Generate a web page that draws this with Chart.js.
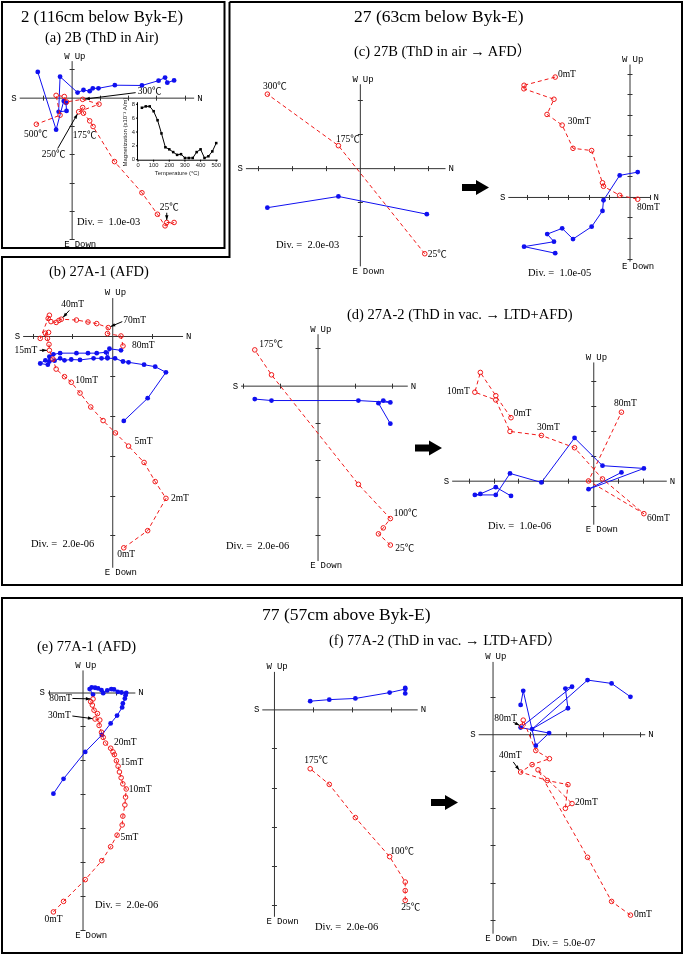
<!DOCTYPE html>
<html>
<head>
<meta charset="utf-8">
<script src="https://cdn.jsdelivr.net/npm/chart.js@4.4.1/dist/chart.umd.min.js"></script>
<style>
  body { margin: 0; background: #fff; }
  #wrap { position: relative; width: 685px; height: 956px; overflow: hidden; }
  #wrap canvas, #wrap svg { position: absolute; left: 0; top: 0; }
  .t { position: absolute; font-family: "Liberation Serif", "Noto Sans CJK JP", serif; white-space: nowrap; color: #000; line-height: 1; }
  .h1 { font-size: 17.5px; }
  .h2 { font-size: 14.5px; }
  .dv { font-size: 10.5px; }
</style>
</head>
<body>
<div id="wrap">
<svg width="685" height="956">
  <!-- frames -->
  <rect x="2" y="2" width="222.5" height="246" fill="none" stroke="#000" stroke-width="2"/>
  <polyline points="229.5,2 682,2 682,585 2,585 2,257 229.5,257 229.5,2" fill="none" stroke="#000" stroke-width="2"/>
  <rect x="2" y="598" width="680" height="355" fill="none" stroke="#000" stroke-width="2"/>
  <!-- step arrows -->
  <polygon points="462,184 476,184 476,180 489,187.5 476,195 476,191 462,191" fill="#000"/>
  <polygon points="415,444.5 429,444.5 429,440.5 442,448 429,455.5 429,451.5 415,451.5" fill="#000"/>
  <polygon points="431,799 445,799 445,795 458,802.5 445,810 445,806 431,806" fill="#000"/>
</svg>
<canvas id="zij" width="685" height="956"></canvas>

<div class="t h1" style="left:21px;top:9px;font-size:16.8px">2 (116cm below Byk-E)</div>
<div class="t h2" style="left:45px;top:30px">(a) 2B (ThD in Air)</div>
<div class="t h1" style="left:354px;top:8px">27 (63cm below Byk-E)</div>
<div class="t h2" style="left:354px;top:44px">(c) 27B (ThD in air → AFD）</div>
<div class="t h2" style="left:49px;top:264px">(b) 27A-1 (AFD)</div>
<div class="t h2" style="left:347px;top:307px">(d) 27A-2 (ThD in vac. → LTD+AFD)</div>
<div class="t h1" style="left:262px;top:606px">77 (57cm above Byk-E)</div>
<div class="t h2" style="left:37px;top:639px">(e) 77A-1 (AFD)</div>
<div class="t h2" style="left:329px;top:633px">(f) 77A-2 (ThD in vac. → LTD+AFD）</div>

<div class="t dv" style="left:77px;top:217px">Div. =&nbsp; 1.0e-03</div>
<div class="t dv" style="left:31px;top:539px">Div. =&nbsp; 2.0e-06</div>
<div class="t dv" style="left:276px;top:240px">Div. =&nbsp; 2.0e-03</div>
<div class="t dv" style="left:528px;top:268px">Div. =&nbsp; 1.0e-05</div>
<div class="t dv" style="left:226px;top:541px">Div. =&nbsp; 2.0e-06</div>
<div class="t dv" style="left:488px;top:521px">Div. =&nbsp; 1.0e-06</div>
<div class="t dv" style="left:95px;top:900px">Div. =&nbsp; 2.0e-06</div>
<div class="t dv" style="left:315px;top:922px">Div. =&nbsp; 2.0e-06</div>
<div class="t dv" style="left:532px;top:938px">Div. =&nbsp; 5.0e-07</div>
</div>

<script>
// Zijderveld data, in units of one axis division (Div.)
// _h = horizontal projection (N, W) blue filled, _v = vertical projection (N, Up) red open

// (a) 2B ThD in air, 25C first
const s2B_h = [[3.63,0.61],[3.39,0.53],[3.31,0.71],[3.08,0.60],[2.49,0.43],[1.53,0.44],[0.95,0.33],[0.75,0.33],[0.64,0.23],[0.42,0.27],[0.21,0.18],[-0.41,0.74],[-0.46,-0.50],[-0.18,-0.47],[-0.20,-0.18],[-0.28,-0.12],[-0.55,-1.13],[-1.20,0.91]];
const s2B_v = [[3.37,-4.41],[3.63,-4.41],[3.31,-4.53],[3.04,-4.12],[2.49,-3.36],[1.52,-2.26],[0.76,-1.02],[0.64,-0.82],[0.42,-0.55],[0.39,-0.35],[0.25,-0.50],[0.97,-0.23],[0.39,-0.06],[-0.18,-0.15],[-0.26,0.04],[-0.55,0.08],[-0.41,-0.62],[-1.25,-0.94]];

// inset: thermal demagnetisation curve of 2B
const inTemp = [25,50,75,100,125,150,175,200,225,250,275,300,325,350,375,400,425,450,475,500];
const inMag = [7.5,7.7,7.7,7.0,5.7,3.8,1.8,1.5,1.1,0.7,0.8,0.25,0.25,0.25,1.1,1.5,0.25,0.5,1.2,2.4];

// (b) 27A-1 AFD, 0mT first
const s27A1_h = [[0.29,-2.13],[0.89,-1.56],[1.35,-0.91],[1.08,-0.77],[0.80,-0.72],[0.41,-0.66],[0.27,-0.64],[0.07,-0.56],[-0.12,-0.56],[-0.27,-0.56],[-0.47,-0.56],[-0.81,-0.60],[-1.03,-0.59],[-1.20,-0.61],[-1.31,-0.56],[-1.45,-0.62],[-1.58,-0.64],[-1.68,-0.61],[-1.81,-0.69],[-1.62,-0.72],[-1.58,-0.52],[-1.48,-0.46],[-1.31,-0.43],[-0.90,-0.43],[-0.61,-0.43],[-0.39,-0.43],[-0.16,-0.41],[-0.12,-0.54],[-0.07,-0.32],[0.22,-0.36]];
const s27A1_v = [[0.29,-5.31],[0.89,-4.88],[1.35,-4.07],[1.08,-3.65],[0.80,-3.17],[0.41,-2.76],[0.08,-2.43],[-0.23,-2.12],[-0.54,-1.78],[-0.81,-1.43],[-1.03,-1.16],[-1.20,-1.02],[-1.41,-0.83],[-1.49,-0.58],[-1.58,-0.36],[-1.59,-0.21],[-1.63,-0.06],[-1.68,0.07],[-1.60,0.09],[-1.81,-0.06],[-1.58,0.52],[-1.61,0.44],[-1.54,0.36],[-1.41,0.34],[-1.34,0.39],[-1.28,0.42],[-0.90,0.40],[-0.61,0.35],[-0.39,0.31],[-0.10,0.21],[-0.12,0.06],[0.22,0.00],[0.27,-0.25]];

// (c) 27B ThD in air (25, 175, 300C) then AFD (0-80mT)
const s27B_thd_h = [[1.97,-1.35],[-0.63,-0.83],[-2.72,-1.16]];
const s27B_thd_v = [[1.91,-2.51],[-0.63,0.66],[-2.72,2.17]];
const s27B_afd_h = [[-3.63,-2.74],[-5.15,-2.42],[-3.69,-2.18],[-4.02,-1.81],[-3.29,-1.53],[-2.76,-2.05],[-1.85,-1.45],[-1.32,-0.68],[-1.27,-0.16],[-0.48,1.05],[0.40,1.21]];
const s27B_afd_v = [[-3.63,5.84],[-5.15,5.44],[-5.16,5.27],[-3.69,4.76],[-4.03,4.02],[-3.29,3.50],[-2.76,2.37],[-1.85,2.26],[-1.32,0.69],[-1.27,0.52],[-0.48,0.08],[0.40,-0.11]];

// (d) 27A-2 ThD in vacuum (25-175C) then LTD+AFD
const s27A2_thd_h = [[1.96,-1.02],[1.64,-0.47],[1.77,-0.40],[1.96,-0.45],[1.10,-0.40],[-1.24,-0.40],[-1.69,-0.36]];
const s27A2_thd_v = [[1.96,-4.28],[1.64,-3.98],[1.77,-3.82],[1.96,-3.57],[1.10,-2.65],[-1.24,0.29],[-1.69,0.96]];
const s27A2_afd_h = [[-3.30,-0.61],[-3.91,-0.26],[-4.53,-0.53],[-4.75,-0.57],[-3.91,-0.57],[-3.34,0.29],[-2.08,-0.07],[-0.75,1.71],[0.37,0.60],[2.03,0.49],[-0.19,-0.34],[1.13,0.33]];
const s27A2_afd_v = [[-3.30,2.52],[-3.91,3.40],[-4.53,4.33],[-4.75,3.54],[-3.91,3.23],[-3.34,1.97],[-2.08,1.81],[-0.75,1.32],[0.37,0.07],[2.03,-1.32],[-0.19,-0.01],[1.13,2.74]];

// (e) 77A-1 AFD, 0mT first
const s77A1_h = [[-0.86,-2.98],[-0.56,-2.54],[0.08,-1.75],[0.57,-1.25],[0.83,-0.91],[1.02,-0.68],[1.17,-0.44],[1.19,-0.32],[1.25,-0.18],[1.27,-0.08],[1.29,-0.01],[1.15,0.00],[1.04,0.02],[0.93,0.09],[0.85,0.10],[0.73,0.06],[0.61,-0.02],[0.56,0.07],[0.46,0.12],[0.37,0.14],[0.27,0.15],[0.21,0.10],[0.31,-0.06]];
const s77A1_v = [[-0.86,-6.46],[-0.56,-6.15],[0.08,-5.51],[0.57,-4.95],[0.83,-4.54],[1.02,-4.20],[1.17,-3.90],[1.19,-3.64],[1.25,-3.31],[1.27,-3.08],[1.29,-2.84],[1.19,-2.69],[1.14,-2.51],[1.09,-2.34],[1.05,-2.17],[1.00,-2.01],[0.94,-1.83],[0.90,-1.75],[0.83,-1.64],[0.68,-1.49],[0.61,-1.32],[0.56,-1.17],[0.49,-0.97],[0.51,-0.81],[0.37,-0.78],[0.44,-0.62],[0.34,-0.52],[0.29,-0.37],[0.24,-0.27],[0.31,-0.19]];

// (f) 77A-2 ThD in vacuum then LTD+AFD
const s77A2_thd_h = [[3.37,0.41],[3.37,0.55],[3.37,0.52],[2.97,0.43],[2.09,0.28],[1.42,0.25],[0.93,0.21]];
const s77A2_thd_v = [[3.37,-4.89],[3.37,-4.64],[3.37,-4.42],[2.97,-3.77],[2.09,-2.77],[1.42,-1.92],[0.93,-1.52]];
const s77A2_afd_h = [[3.73,1.01],[3.22,1.37],[2.57,1.46],[1.07,0.14],[2.04,0.70],[1.97,1.23],[2.15,1.28],[0.76,0.18],[1.53,0.03],[1.17,-0.31],[0.83,1.17],[0.76,0.79]];
const s77A2_afd_v = [[3.73,-4.88],[3.22,-4.51],[2.57,-3.32],[1.23,-0.96],[2.15,-1.87],[1.97,-2.00],[2.04,-1.36],[1.48,-1.25],[0.76,-1.02],[1.07,-0.82],[1.54,-0.66],[1.17,-0.44],[0.83,0.38],[0.79,0.21]];

// ---- layout: origin pixel, pixels per division, axis extents (div), labels
const W = 685, H = 956;
const panels = [
  { key: 'a', o: [69, 95], d: 28.5, ax: [-1.84, 4.34], ay: [-5.02, 1.29], h: s2B_h, v: s2B_v,
    notes: [['v', 12, '300℃', 55, -7.7, [53, -6.7]], ['v', 17, '500℃', -12.4, 10.2], ['v', 7, '175℃', -17, 14.6],
            ['v', 10, '250℃', -37, 42.7, [-21, 36.7]], ['v', 0, '25℃', -7, -14.7, [0, -9.7]]] },
  { key: 'b', o: [110, 335], d: 40.17, ax: [-2.24, 1.78], ay: [-5.81, 0.95], h: s27A1_h, v: s27A1_v,
    notes: [['v', 25, '40mT', 0, -15, [8, -8.8]], ['v', 29, '70mT', 15, -7.3, [14, -6]], ['v', 32, '80mT', 9, -0.7],
            ['v', 14, '15mT', -34.8, 0, [-9.8, 0]], ['v', 10, '10mT', 4, -2], ['v', 5, '5mT', 6, -5],
            ['v', 2, '2mT', 5, 0], ['v', 0, '0mT', -6.6, 6.7]] },
  { key: 'c1', o: [360, 166], d: 34.33, ax: [-3.35, 2.52], ay: [-2.88, 2.46], h: s27B_thd_h, v: s27B_thd_v,
    notes: [['v', 0, '25℃', 3, 1], ['v', 1, '175℃', -2.4, -6.6], ['v', 2, '300℃', -4.3, -7.5]] },
  { key: 'c2', o: [632.3, 195], d: 20.67, ax: [-5.92, 1.02], ay: [-3.15, 6.45], h: s27B_afd_h, v: s27B_afd_v,
    notes: [['v', 0, '0mT', 2.7, -2.6], ['v', 5, '30mT', 5.7, -3.4], ['v', 11, '80mT', -0.6, 8.4]] },
  { key: 'd1', o: [317.3, 385], d: 37.5, ax: [-2.06, 2.43], ay: [-4.71, 1.38], h: s27A2_thd_h, v: s27A2_thd_v,
    notes: [['v', 0, '25℃', 5, 3], ['v', 3, '100℃', 3.5, -5], ['v', 6, '175℃', 4.4, -5.7]] },
  { key: 'd2', o: [595.7, 480.7], d: 25.17, ax: [-5.66, 2.95], ay: [-1.76, 4.73], h: s27A2_afd_h, v: s27A2_afd_v,
    notes: [['v', 0, '0mT', 2.4, -4.6], ['v', 3, '10mT', -27.8, -0.9], ['v', 6, '30mT', -4.3, -8.4],
            ['v', 9, '60mT', 3.2, 4.4], ['v', 11, '80mT', -7.4, -9]] },
  { key: 'e', o: [80, 694], d: 34.2, ax: [-1.02, 1.56], ay: [-7.0, 0.65], h: s77A1_h, v: s77A1_v,
    notes: [['v', 0, '0mT', -8.9, 7.8], ['v', 5, '5mT', 3.4, 2.4], ['v', 10, '10mT', 2.6, 0.6], ['v', 14, '15mT', 2.4, -4.2],
            ['v', 18, '20mT', 3.3, -6.1], ['v', 24, '30mT', -47, -4, [-22.7, -3]], ['v', 29, '80mT', -43.9, -0.5, [-20.6, -0.5]]] },
  { key: 'f1', o: [273.3, 711], d: 39.33, ax: [-0.3, 3.69], ay: [-5.31, 0.96], h: s77A2_thd_h, v: s77A2_thd_v,
    notes: [['v', 0, '25℃', -4.1, 7.4], ['v', 3, '100℃', 0.6, -5.3], ['v', 6, '175℃', -5.9, -8.5]] },
  { key: 'f2', o: [494, 736], d: 37.33, ax: [-0.375, 4.13], ay: [-5.38, 1.95], h: s77A2_afd_h, v: s77A2_afd_v,
    notes: [['v', 0, '0mT', 3.5, -0.5], ['v', 4, '20mT', 3, -0.8], ['v', 8, '40mT', -21.7, -16.8, [-7.4, -10.1]],
            ['v', 13, '80mT', -27.5, -8.2, [-8.5, -4.2]]] }
];
// inset plot rectangle: pixel of 0C / 500C and 0 / 8 magnetization
const inset = { x0: 136, x1: 215, y0: 157.5, y1: 101.7 };

const BLUE = '#1010f0', RED = '#f01818', AXIS = '#333';

const scales = {};
const datasets = [];
panels.forEach((p) => {
  scales['x' + p.key] = { type: 'linear', display: false, bounds: 'data', min: -p.o[0] / p.d, max: (W - p.o[0]) / p.d };
  scales['y' + p.key] = { type: 'linear', display: false, bounds: 'data', min: (p.o[1] - H) / p.d, max: p.o[1] / p.d };
  datasets.push({
    data: p.v.map((q) => ({ x: q[0], y: q[1] })), xAxisID: 'x' + p.key, yAxisID: 'y' + p.key,
    showLine: true, clip: false, borderColor: RED, borderWidth: 1, borderDash: [4, 3],
    pointRadius: 2.3, pointHoverRadius: 2.3, pointBorderWidth: 1,
    pointBorderColor: RED, pointBackgroundColor: 'rgba(255,255,255,0)'
  });
  datasets.push({
    data: p.h.map((q) => ({ x: q[0], y: q[1] })), xAxisID: 'x' + p.key, yAxisID: 'y' + p.key,
    showLine: true, clip: false, borderColor: BLUE, borderWidth: 1,
    pointRadius: 2.4, pointHoverRadius: 2.4, pointBorderWidth: 0,
    pointBorderColor: BLUE, pointBackgroundColor: BLUE
  });
});
// inset scales
const kx = (inset.x1 - inset.x0) / 500, ky = (inset.y0 - inset.y1) / 8;
scales.xin = { type: 'linear', display: false, bounds: 'data', min: -inset.x0 / kx, max: (W - inset.x0) / kx };
scales.yin = { type: 'linear', display: false, bounds: 'data', min: (inset.y0 - H) / ky, max: inset.y0 / ky };
datasets.push({
  data: inTemp.map((t, i) => ({ x: t, y: inMag[i] })), xAxisID: 'xin', yAxisID: 'yin',
  showLine: true, clip: false, borderColor: '#000', borderWidth: 1,
  pointStyle: 'rect', pointRadius: 1.8, pointHoverRadius: 1.8, pointBorderWidth: 0, pointBackgroundColor: '#000'
});

function arrowTo(ctx, x1, y1, x2, y2) {
  const a = Math.atan2(y2 - y1, x2 - x1);
  ctx.beginPath();
  ctx.moveTo(x1, y1);
  ctx.lineTo(x2, y2);
  ctx.stroke();
  ctx.beginPath();
  ctx.moveTo(x2, y2);
  ctx.lineTo(x2 - 5 * Math.cos(a - 0.35), y2 - 5 * Math.sin(a - 0.35));
  ctx.lineTo(x2 - 5 * Math.cos(a + 0.35), y2 - 5 * Math.sin(a + 0.35));
  ctx.closePath();
  ctx.fill();
}

const zijPlugin = {
  id: 'zij',
  beforeDatasetsDraw(chart) {
    const ctx = chart.ctx;
    ctx.save();
    ctx.strokeStyle = AXIS;
    ctx.fillStyle = '#000';
    ctx.lineWidth = 1;
    panels.forEach((p) => {
      const xs = chart.scales['x' + p.key], ys = chart.scales['y' + p.key];
      const ox = xs.getPixelForValue(0), oy = ys.getPixelForValue(0);
      const xl = xs.getPixelForValue(p.ax[0]), xr = xs.getPixelForValue(p.ax[1]);
      const yt = ys.getPixelForValue(p.ay[1]), yb = ys.getPixelForValue(p.ay[0]);
      ctx.beginPath();
      ctx.moveTo(xl, oy + 0.5); ctx.lineTo(xr, oy + 0.5);
      ctx.moveTo(ox + 0.5, yt); ctx.lineTo(ox + 0.5, yb);
      for (let k = Math.ceil(p.ax[0]); k <= p.ax[1]; k++) {
        if (k === 0) continue;
        const px = Math.round(xs.getPixelForValue(k)) + 0.5;
        ctx.moveTo(px, oy - 2); ctx.lineTo(px, oy + 3);
      }
      for (let k = Math.ceil(p.ay[0]); k <= p.ay[1]; k++) {
        if (k === 0) continue;
        const py = Math.round(ys.getPixelForValue(k)) + 0.5;
        ctx.moveTo(ox - 2, py); ctx.lineTo(ox + 3, py);
      }
      ctx.stroke();
      // direction labels
      ctx.font = '9px "Liberation Mono", monospace';
      ctx.textBaseline = 'middle';
      ctx.textAlign = 'right';
      ctx.fillText('S', xl - 3, oy + 0.5);
      ctx.fillText('W', ox - 2, yt - 5);
      ctx.fillText('E', ox - 2, yb + 5);
      ctx.textAlign = 'left';
      ctx.fillText('N', xr + 3, oy + 0.5);
      ctx.fillText('Up', ox + 3, yt - 5);
      ctx.fillText('Down', ox + 3, yb + 5);
    });
    // inset axes
    const xi = chart.scales.xin, yi = chart.scales.yin;
    const ix0 = xi.getPixelForValue(0), iy0 = yi.getPixelForValue(0);
    ctx.strokeStyle = '#000';
    ctx.beginPath();
    ctx.moveTo(ix0 - 0.5, yi.getPixelForValue(8.3)); ctx.lineTo(ix0 - 0.5, iy0 + 0.5);
    ctx.lineTo(xi.getPixelForValue(510), iy0 + 0.5);
    [0, 100, 200, 300, 400, 500].forEach((t) => {
      const px = xi.getPixelForValue(t);
      ctx.moveTo(px, iy0); ctx.lineTo(px, iy0 + 2);
    });
    [0, 2, 4, 6, 8].forEach((m) => {
      const py = yi.getPixelForValue(m);
      ctx.moveTo(ix0 - 2, py); ctx.lineTo(ix0, py);
    });
    ctx.stroke();
    ctx.fillStyle = '#222';
    ctx.font = '5.8px "Liberation Sans", sans-serif';
    ctx.textAlign = 'center';
    ctx.textBaseline = 'top';
    [0, 100, 200, 300, 400, 500].forEach((t) => ctx.fillText(String(t), xi.getPixelForValue(t), iy0 + 3));
    ctx.fillText('Temperature (°C)', xi.getPixelForValue(250), iy0 + 11);
    ctx.textAlign = 'right';
    ctx.textBaseline = 'middle';
    [0, 2, 4, 6, 8].forEach((m) => ctx.fillText(String(m), ix0 - 3, yi.getPixelForValue(m)));
    ctx.translate(ix0 - 13, yi.getPixelForValue(4));
    ctx.rotate(-Math.PI / 2);
    ctx.textAlign = 'center';
    ctx.font = '6px "Liberation Sans", sans-serif';
    ctx.fillText('Magnetization (x10\u207B\u00B3 A/m)', 0, 0);
    ctx.restore();
  },
  afterDatasetsDraw(chart) {
    const ctx = chart.ctx;
    ctx.save();
    ctx.fillStyle = '#000';
    ctx.strokeStyle = '#000';
    ctx.lineWidth = 1;
    ctx.font = '9.5px "Liberation Serif", "Noto Sans CJK JP", serif';
    ctx.textAlign = 'left';
    ctx.textBaseline = 'middle';
    panels.forEach((p) => {
      const xs = chart.scales['x' + p.key], ys = chart.scales['y' + p.key];
      p.notes.forEach((n) => {
        const q = p[n[0]][n[1]];
        const px = xs.getPixelForValue(q[0]), py = ys.getPixelForValue(q[1]);
        ctx.fillText(n[2], px + n[3], py + n[4]);
        if (n[5]) {
          const sx = px + n[5][0], sy = py + n[5][1];
          const len = Math.hypot(px - sx, py - sy);
          const ex = px - (px - sx) / len * 2.5, ey = py - (py - sy) / len * 2.5;
          arrowTo(ctx, sx, sy, ex, ey);
        }
      });
    });
    ctx.restore();
  }
};

new Chart(document.getElementById('zij'), {
  type: 'scatter',
  data: { datasets: datasets },
  options: {
    responsive: false,
    animation: false,
    events: [],
    layout: { padding: 0 },
    scales: scales,
    plugins: { legend: { display: false }, tooltip: { enabled: false }, title: { display: false } }
  },
  plugins: [zijPlugin]
});
</script>
</body>
</html>
